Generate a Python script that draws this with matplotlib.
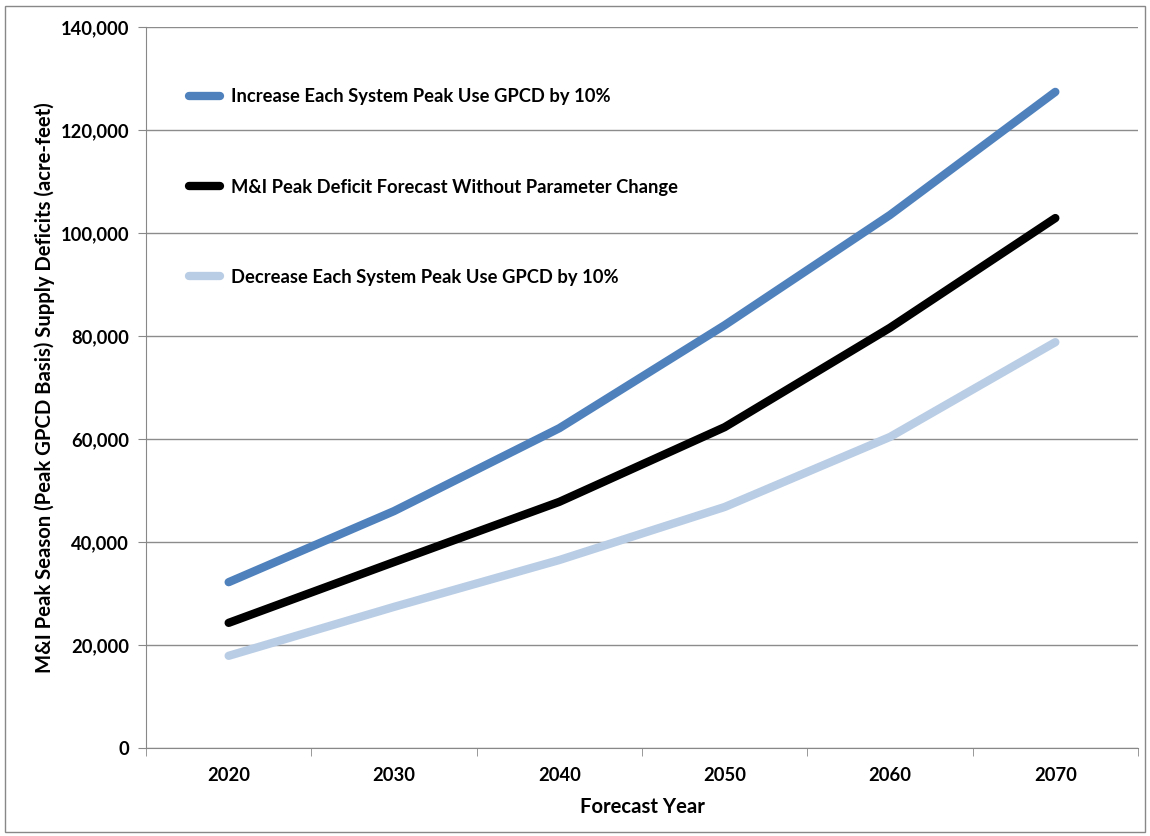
import numpy as np
import matplotlib.pyplot as plt
from matplotlib.ticker import FuncFormatter, FixedLocator
from matplotlib.patches import Rectangle

years = ["2020", "2030", "2040", "2050", "2060", "2070"]
increase_10 = [32200, 46000, 62100, 82100, 103500, 127400]
baseline = [24300, 36100, 47800, 62300, 81600, 102900]
decrease_10 = [17900, 27400, 36500, 46800, 60400, 78800]

labels = [
    "Increase Each System Peak Use GPCD by 10%",
    "M&I Peak Deficit Forecast Without Parameter Change",
    "Decrease Each System Peak Use GPCD by 10%",
]
colors = ["#4f81bd", "#000000", "#b9cde5"]

plt.rcParams["font.family"] = ["Lato", "DejaVu Sans"]
plt.rcParams["font.weight"] = "bold"

fig = plt.figure(figsize=(11.5, 8.36), dpi=100)
ax = fig.add_axes([146 / 1150, 1 - 748 / 836, (1138 - 146) / 1150, (748 - 27) / 836])

x = np.arange(len(years))
for vals, lab, col in zip([increase_10, baseline, decrease_10], labels, colors):
    ax.plot(x, vals, color=col, lw=6, solid_capstyle="round", label=lab)

ax.set_xlim(-0.5, len(years) - 0.5)
ax.set_ylim(0, 140000)
ax.set_yticks(np.arange(0, 140001, 20000))
ax.yaxis.set_major_formatter(FuncFormatter(lambda v, p: f"{int(v):,}"))
ax.set_xticks(x)
ax.set_xticklabels(years)
ax.xaxis.set_minor_locator(FixedLocator(np.arange(-0.5, len(years), 1.0)))
ax.tick_params(axis="x", which="major", length=0, pad=14, labelsize=13.2)
ax.tick_params(axis="x", which="minor", length=6, color="#888888", direction="out")
ax.tick_params(axis="y", length=6, color="#888888", labelsize=13.2, pad=6)
ax.grid(axis="y", color="#8c8c8c", lw=1)
ax.set_axisbelow(True)
for s in ["top", "right"]:
    ax.spines[s].set_visible(False)
ax.spines["left"].set_color("#888888")
ax.spines["bottom"].set_color("#888888")

ax.set_xlabel("Forecast Year", fontsize=14.6, fontweight="bold", labelpad=9)
ax.set_ylabel("M&I Peak Season (Peak GPCD Basis) Supply Deficits (acre-feet)",
              fontsize=14.6, fontweight="bold", labelpad=4)

ax.legend(loc="upper left", bbox_to_anchor=(0.027, 0.938), frameon=False,
          labelspacing=4.0, handlelength=1.7, handletextpad=0.55,
          prop={"weight": "bold", "size": 13.2})

fig.patches.append(Rectangle((5 / 1150, 4 / 836), 1140 / 1150, 826 / 836,
                             transform=fig.transFigure, fill=False,
                             edgecolor="#888888", lw=1))

fig.savefig("out.png", dpi=100)
